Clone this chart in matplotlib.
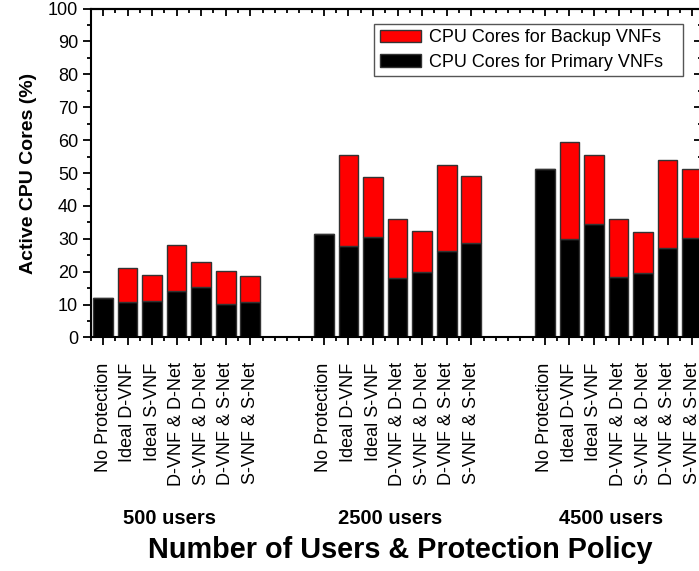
import numpy as np
import matplotlib
matplotlib.use('Agg')
import matplotlib.pyplot as plt
from matplotlib.transforms import blended_transform_factory, ScaledTranslation

plt.rcParams['font.family'] = ['Liberation Sans', 'DejaVu Sans']

# policy names (same in every user group)
policies = ['No Protection', 'Ideal D-VNF', 'Ideal S-VNF', 'D-VNF & D-Net',
            'S-VNF & D-Net', 'D-VNF & S-Net', 'S-VNF & S-Net']
groups = ['500 users', '2500 users', '4500 users']

# stacked heights (%)
primary_500 = [12.0, 10.7, 11.2, 14.0, 15.3, 10.2, 10.7]
total_500 = [12.0, 21.2, 18.9, 28.1, 22.9, 20.2, 18.8]
primary_2500 = [31.6, 27.8, 30.5, 18.1, 20.0, 26.3, 28.8]
total_2500 = [31.6, 55.5, 48.8, 35.9, 32.5, 52.5, 49.1]
primary_4500 = [51.2, 29.8, 34.5, 18.3, 19.7, 27.1, 30.2]
total_4500 = [51.2, 59.5, 55.4, 36.1, 32.0, 54.0, 51.1]

primary = np.array(primary_500 + primary_2500 + primary_4500)
total = np.array(total_500 + total_2500 + total_4500)
backup = total - primary

# bar positions: 7 bars per group, 2 empty slots between groups
pos = np.concatenate([np.arange(1, 8) + 9 * g for g in range(3)])
labels = policies * 3

fig = plt.figure(figsize=(6.99, 5.71), dpi=100)
# the original figure is cropped on the right, so the axes run past the edge
ax = fig.add_axes([0.1298, 0.409, 0.878, 0.576])

ax.bar(pos, primary, width=0.8, color='black', edgecolor='#333333',
       linewidth=1, label='CPU Cores for Primary VNFs', zorder=2)
ax.bar(pos, backup, width=0.8, bottom=primary, color='#FF0000',
       edgecolor='#333333', linewidth=1, label='CPU Cores for Backup VNFs',
       zorder=2)

ax.set_xlim(0.5, 25.5)
ax.set_ylim(0, 100)
ax.set_yticks(np.arange(0, 101, 10))
ax.set_yticks(np.arange(5, 100, 10), minor=True)
ax.set_xticks(pos)
ax.set_xticks(np.arange(0.5, 25.6, 0.5), minor=True)
ax.set_xticklabels(labels, rotation=90, fontsize=13, va='top')
shift = ScaledTranslation(-0.03, 0, fig.dpi_scale_trans)
for lab in ax.get_xticklabels():
    lab.set_transform(lab.get_transform() + shift)

for s in ax.spines.values():
    s.set_linewidth(1.5)

ax.tick_params(axis='y', which='major', direction='out', length=6, width=1.3,
               labelsize=13, pad=3)
ax.tick_params(axis='y', which='minor', direction='out', length=3, width=1.3)
ax.tick_params(axis='x', which='major', direction='out', length=6, width=1.3,
               pad=12)
ax.tick_params(axis='x', which='minor', direction='out', length=3, width=1.3)

# inward ticks on top and right edges
top = ax.secondary_xaxis('top')
top.set_xticks(pos)
top.set_xticks(np.arange(0.5, 25.6, 0.5), minor=True)
top.tick_params(which='major', direction='in', length=5, width=1.3,
                labeltop=False)
top.tick_params(which='minor', direction='in', length=3, width=1.3)
top.spines['top'].set_linewidth(1.5)

right = ax.secondary_yaxis('right')
right.set_yticks(np.arange(0, 101, 10))
right.set_yticks(np.arange(5, 100, 10), minor=True)
right.tick_params(which='major', direction='in', length=7, width=1.3,
                  labelright=False)
right.tick_params(which='minor', direction='in', length=4, width=1.3)
right.spines['right'].set_linewidth(1.5)

ax.set_ylabel('Active CPU Cores (%)', fontsize=14, fontweight='bold',
              labelpad=8)
fig.text(0.573, 0.036, 'Number of Users & Protection Policy', ha='center',
         va='center', fontsize=20.8, fontweight='bold')

trans = blended_transform_factory(ax.transData, fig.transFigure)
for g, name in enumerate(groups):
    ax.text(4 + 9 * g - 0.3, 0.092, name, transform=trans, ha='center',
            va='center', fontsize=14.5, fontweight='bold')

handles, hl = ax.get_legend_handles_labels()
hl = [h + '   ' for h in hl]
leg = ax.legend(handles[::-1], hl[::-1], loc='upper right',
                bbox_to_anchor=(0.965, 0.953), borderaxespad=0,
                fontsize=13, fancybox=False, edgecolor='#555555',
                handlelength=2.3, handleheight=0.7, labelspacing=0.4,
                borderpad=0.3, handletextpad=0.4, framealpha=1)
leg.get_frame().set_linewidth(1)

fig.savefig('out.png', dpi=100)
